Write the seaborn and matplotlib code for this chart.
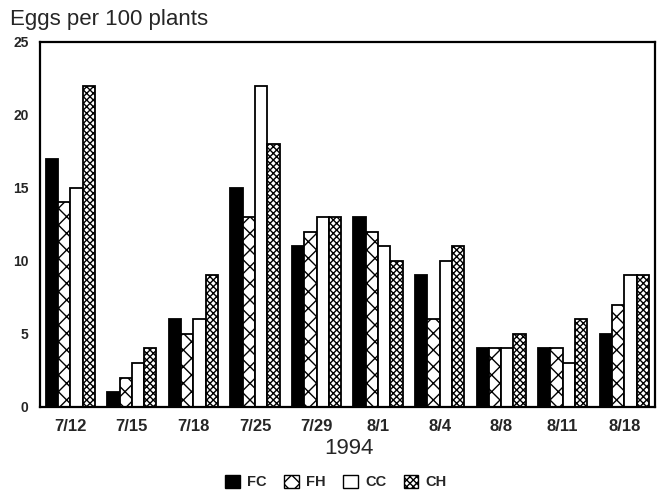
import numpy as np
import pandas as pd
import matplotlib
matplotlib.use("Agg")
import matplotlib.pyplot as plt
import seaborn as sns
from matplotlib.patches import Patch

# data
dates = ["7/12", "7/15", "7/18", "7/25", "7/29", "8/1", "8/4", "8/8", "8/11", "8/18"]
treatments = ["FC", "FH", "CC", "CH"]
fc = [17, 1, 6, 15, 11, 13, 9, 4, 4, 5]
fh = [14, 2, 5, 13, 12, 12, 6, 4, 4, 7]
cc = [15, 3, 6, 22, 13, 11, 10, 4, 3, 9]
ch = [22, 4, 9, 18, 13, 10, 11, 5, 6, 9]

df = pd.DataFrame({
    "date": dates * 4,
    "trt": np.repeat(treatments, len(dates)),
    "eggs": fc + fh + cc + ch,
})

sns.set_style("white")
plt.rcParams["font.family"] = ["Liberation Sans", "DejaVu Sans"]
plt.rcParams["hatch.linewidth"] = 1.0

fig = plt.figure(figsize=(6.59, 4.92), dpi=100)
ax = fig.add_axes([0.06, 0.173, 0.934, 0.742])

sns.barplot(data=df, x="date", y="eggs", hue="trt", order=dates,
            hue_order=treatments, width=0.8, ax=ax, legend=False,
            saturation=1)

styles = {
    "FC": dict(facecolor="black", hatch=None),
    "FH": dict(facecolor="white", hatch="xx"),
    "CC": dict(facecolor="white", hatch=None),
    "CH": dict(facecolor="white", hatch="xxxxx"),
}
for trt, cont in zip(treatments, ax.containers):
    for bar in cont:
        bar.set_facecolor(styles[trt]["facecolor"])
        bar.set_edgecolor("black")
        bar.set_linewidth(1.3)
        if styles[trt]["hatch"]:
            bar.set_hatch(styles[trt]["hatch"])

ax.set_ylim(0, 25)
ax.set_yticks([0, 5, 10, 15, 20, 25])
ax.set_xlim(-0.5, len(dates) - 0.5)
ax.set_xlabel("")
ax.set_ylabel("")
ax.tick_params(axis="y", direction="in", length=3, width=1, labelsize=10, pad=8)
ax.tick_params(axis="x", length=0, labelsize=12, pad=9)
for lab in ax.get_xticklabels() + ax.get_yticklabels():
    lab.set_fontweight("bold")
for sp in ax.spines.values():
    sp.set_visible(True)
    sp.set_color("black")
    sp.set_linewidth(1.6)

fig.text(0.015, 0.949, "Eggs per 100 plants", fontsize=16, ha="left", va="baseline")
fig.text(0.53, 0.089, "1994", fontsize=16, ha="center", va="center")

handles = [Patch(facecolor=styles[t]["facecolor"], edgecolor="black",
                 hatch=styles[t]["hatch"], label=t) for t in treatments]
fig.legend(handles=handles, loc="center", bbox_to_anchor=(0.51, 0.02), ncol=4,
           frameon=False, prop={"size": 10.5, "weight": "bold"},
           handlelength=1.0, handleheight=1.0,
           handletextpad=0.5, columnspacing=1.2, borderpad=0)

fig.savefig("out.png", dpi=100)
